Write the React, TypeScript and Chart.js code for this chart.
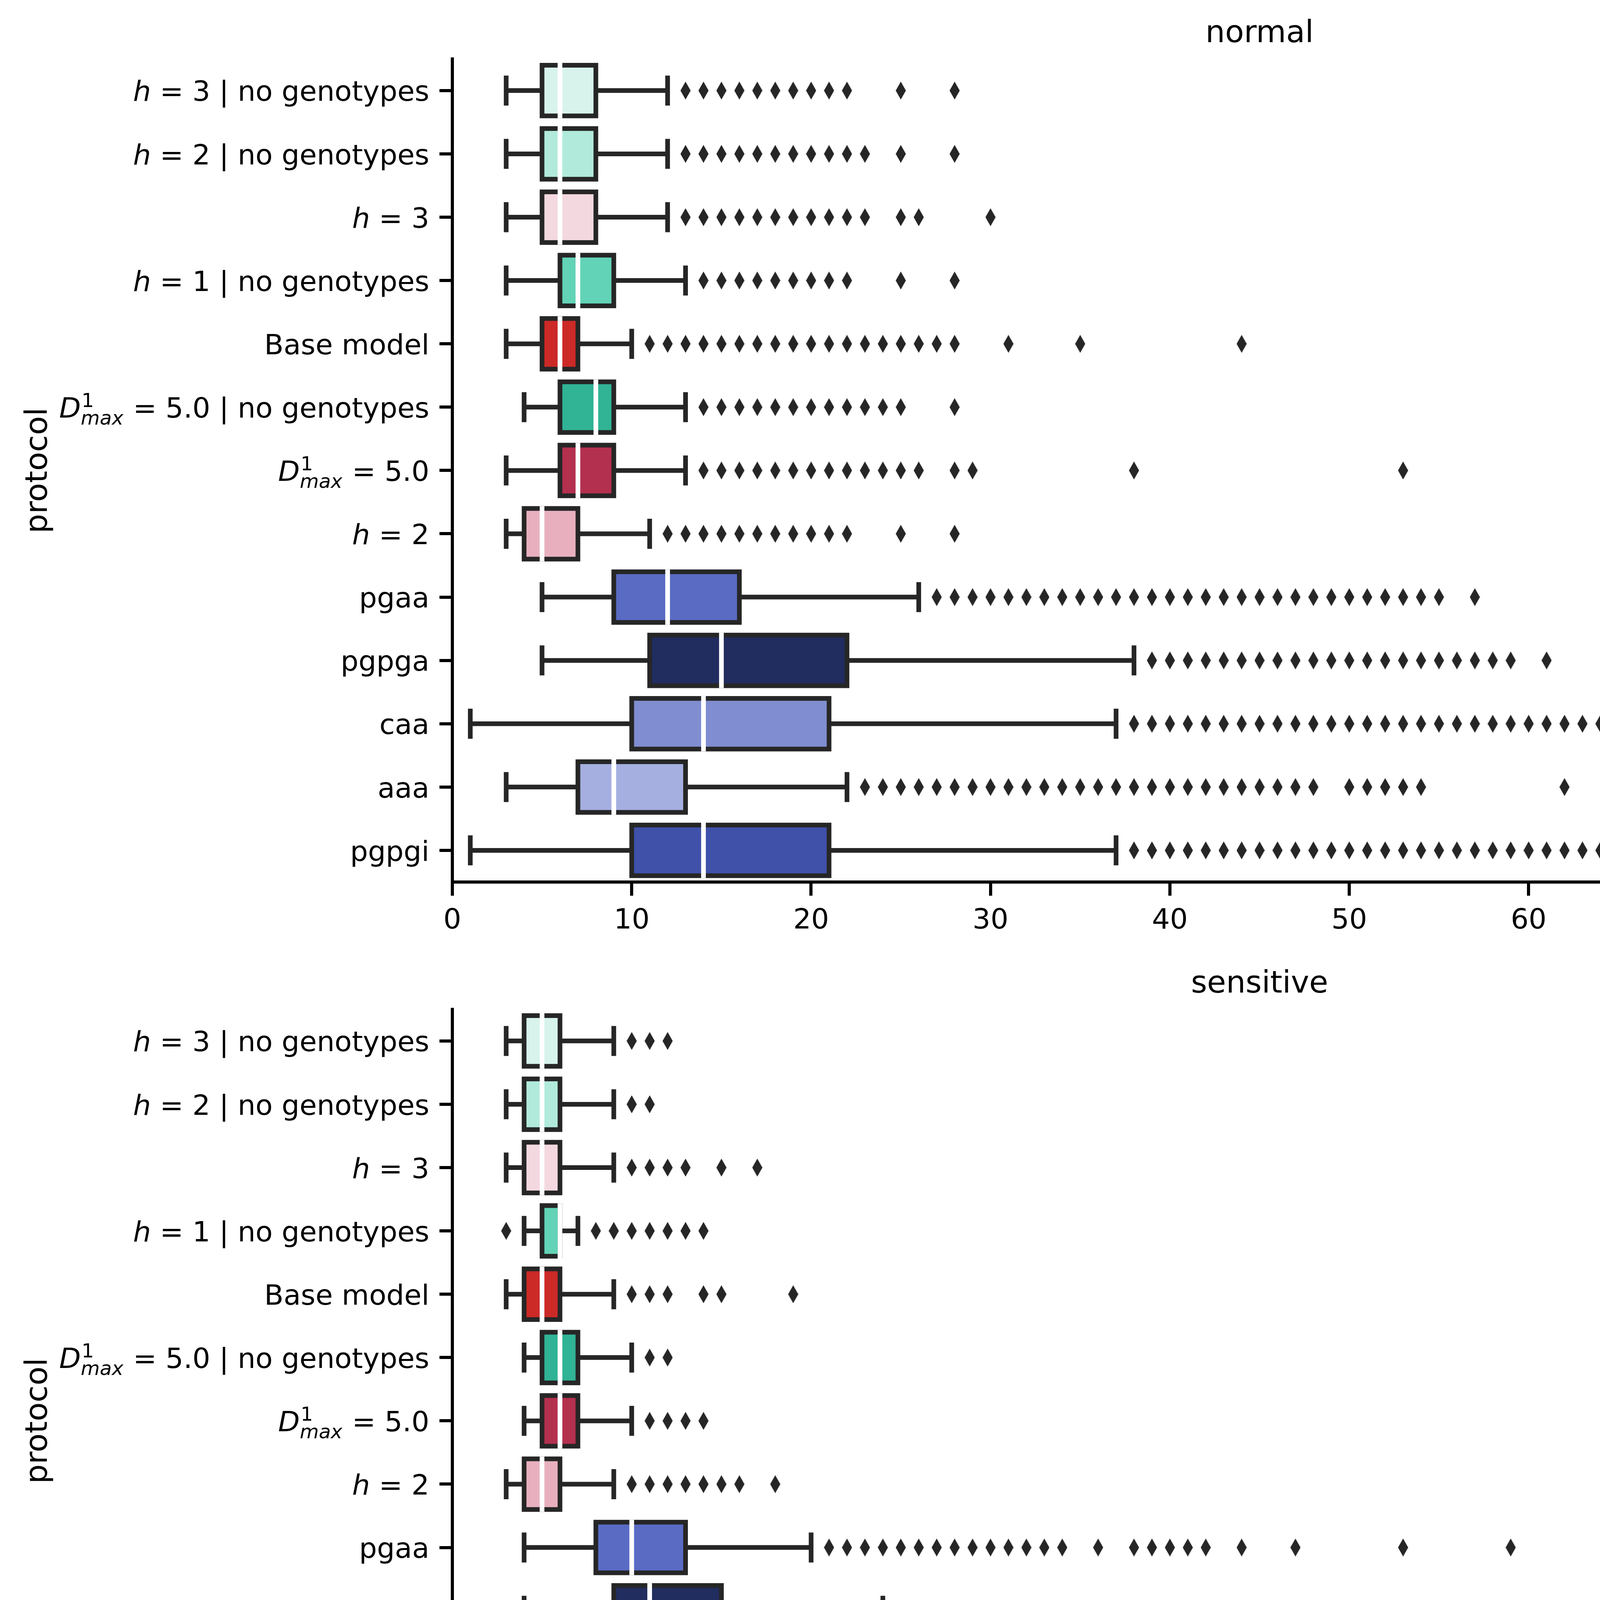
import React, { useEffect, useRef } from 'react';
import { Chart, registerables } from 'chart.js';

Chart.register(...registerables);

// ---------------- data ----------------
const categories = [
  'h = 3 | no genotypes',
  'h = 2 | no genotypes',
  'h = 3',
  'h = 1 | no genotypes',
  'Base model',
  'D^1_max = 5.0 | no genotypes',
  'D^1_max = 5.0',
  'h = 2',
  'pgaa',
  'pgpga',
  'caa',
  'aaa',
  'pgpgi',
];

const panelTitles = ['normal', 'sensitive', 'highly sensitive'];
const xMin = 0;
const xMax = 90;
const xStep = 10;

const boxColors = [
  '#d7f3ec', '#b1eadb', '#f4d8e0', '#62d3b6', '#cb2a27', '#31b395', '#b3304f',
  '#e8b0be', '#5a6bc4', '#212c5f', '#808dd0', '#a5afe0', '#3f51a9',
];

// normal
const normalLow = [3, 3, 3, 3, 3, 4, 3, 3, 5, 5, 1, 3, 1];
const normalQ1 = [5, 5, 5, 6, 5, 6, 6, 4, 9, 11, 10, 7, 10];
const normalMedian = [6, 6, 6, 7, 6, 8, 7, 5, 12, 15, 14, 9, 14];
const normalQ3 = [8, 8, 8, 9, 7, 9, 9, 7, 16, 22, 21, 13, 21];
const normalHigh = [12, 12, 12, 13, 10, 13, 13, 11, 26, 38, 37, 22, 37];
const normalFliers = [
  [13, 14, 15, 16, 17, 18, 19, 20, 21, 22, 25, 28],
  [13, 14, 15, 16, 17, 18, 19, 20, 21, 22, 23, 25, 28],
  [13, 14, 15, 16, 17, 18, 19, 20, 21, 22, 23, 25, 26, 30],
  [14, 15, 16, 17, 18, 19, 20, 21, 22, 25, 28],
  [11, 12, 13, 14, 15, 16, 17, 18, 19, 20, 21, 22, 23, 24, 25, 26, 27, 28, 31, 35, 44],
  [14, 15, 16, 17, 18, 19, 20, 21, 22, 23, 24, 25, 28],
  [14, 15, 16, 17, 18, 19, 20, 21, 22, 23, 24, 25, 26, 28, 29, 38, 53],
  [12, 13, 14, 15, 16, 17, 18, 19, 20, 21, 22, 25, 28],
  [27, 28, 29, 30, 31, 32, 33, 34, 35, 36, 37, 38, 39, 40, 41, 42, 43, 44, 45, 46, 47, 48, 49, 50, 51, 52, 53, 54, 55, 57],
  [39, 40, 41, 42, 43, 44, 45, 46, 47, 48, 49, 50, 51, 52, 53, 54, 55, 56, 57, 58, 59, 61, 65, 66, 72, 78],
  [38, 39, 40, 41, 42, 43, 44, 45, 46, 47, 48, 49, 50, 51, 52, 53, 54, 55, 56, 57, 58, 59, 60, 61, 62, 63, 64, 65, 66, 67, 68, 70, 71, 72, 73, 74, 77, 78, 81],
  [23, 24, 25, 26, 27, 28, 29, 30, 31, 32, 33, 34, 35, 36, 37, 38, 39, 40, 41, 42, 43, 44, 45, 46, 47, 48, 50, 51, 52, 53, 54, 62, 65, 71, 76],
  [38, 39, 40, 41, 42, 43, 44, 45, 46, 47, 48, 49, 50, 51, 52, 53, 54, 55, 56, 57, 58, 59, 60, 61, 62, 63, 64, 65, 66, 67, 68, 69, 70, 71, 72, 73, 74, 75, 76, 77, 78, 79, 80, 81, 82, 83, 84, 85, 86, 87, 88, 89, 90],
];

// sensitive
const sensitiveLow = [3, 3, 3, 4, 3, 4, 4, 3, 4, 4, 4, 3, 1];
const sensitiveQ1 = [4, 4, 4, 5, 4, 5, 5, 4, 8, 9, 7, 5, 8];
const sensitiveMedian = [5, 5, 5, 6, 5, 6, 6, 5, 10, 11, 8, 6, 11];
const sensitiveQ3 = [6, 6, 6, 6, 6, 7, 7, 6, 13, 15, 10, 8, 14];
const sensitiveHigh = [9, 9, 9, 7, 9, 10, 10, 9, 20, 24, 14, 12, 23];
const sensitiveFliers = [
  [10, 11, 12],
  [10, 11],
  [10, 11, 12, 13, 15, 17],
  [3, 8, 9, 10, 11, 12, 13, 14],
  [10, 11, 12, 14, 15, 19],
  [11, 12],
  [11, 12, 13, 14],
  [10, 11, 12, 13, 14, 15, 16, 18],
  [21, 22, 23, 24, 25, 26, 27, 28, 29, 30, 31, 32, 33, 34, 36, 38, 39, 40, 41, 42, 44, 47, 53, 59],
  [25, 26, 27, 28, 29, 30, 31, 32, 33, 34, 35, 36, 37, 38, 39, 40, 41, 42, 43, 44, 48, 53],
  [15, 16, 17, 18, 19, 20, 21, 22, 23, 24, 25, 27, 28, 29, 31, 32, 33, 40, 50],
  [13, 14, 15, 16, 17, 18, 19, 20, 23, 29, 30, 48, 67],
  [24, 25, 26, 27, 28, 29, 30, 31, 32, 33, 34, 35, 36, 37, 38, 39, 40, 41, 42, 43, 44, 45, 47, 48, 49, 50, 51, 52, 53, 54, 55, 56, 58, 59, 60, 61, 62, 63, 64, 65, 66, 67, 69, 70, 71, 72, 75, 81, 82, 84, 85, 87, 88, 89],
];

// highly sensitive
const highlyLow = [2, 2, 3, 3, 2, 4, 3, 3, 4, 5, 3, 3, 5];
const highlyQ1 = [3, 3, 4, 4, 3, 5, 5, 3, 8, 9, 5, 4, 8];
const highlyMedian = [4, 4, 5, 4, 4, 5, 6, 5, 10, 10, 6, 5, 9];
const highlyQ3 = [5, 5, 6, 5, 5, 6, 7, 8, 14, 12, 7, 6, 11];
const highlyHigh = [8, 6, 9, 6, 8, 7, 10, 15, 23, 16, 10, 9, 15];
const highlyFliers = [
  [10],
  [10, 14],
  [],
  [7],
  [9, 10, 15],
  [3, 8],
  [11, 14],
  [16, 17, 18, 19, 20, 21, 22],
  [24, 25, 28, 30, 31, 42, 43, 59, 67],
  [17, 18, 19, 21, 22, 23],
  [11, 12, 13, 14, 15],
  [11],
  [16, 17, 18, 20, 22, 23],
];

// ---------------- styling ----------------
const CANVAS_W = 5381;
const PANEL_HEIGHTS = [2433, 2433, 2542];
const PLOT_LEFT = 1158;
const PLOT_BOTTOM = 2258;
const RIGHT_PAD = 90;
const LINE = '#262626';
const LW = 12;
const AXIS_W = 8;
const FAMILY = '"DejaVu Sans", sans-serif';
const TICK_FS = 72;
const LABEL_FS = 79;
const SCRIPT_FS = 50;
const Y_TICK_LEN = 33;
const Y_TICK_PAD = 26;

Chart.defaults.font.family = FAMILY;
Chart.defaults.color = '#000';

function makeDiamond() {
  const c = document.createElement('canvas');
  c.width = 26;
  c.height = 46;
  const g = c.getContext('2d') as CanvasRenderingContext2D;
  g.fillStyle = LINE;
  g.beginPath();
  g.moveTo(13, 0);
  g.lineTo(26, 23);
  g.lineTo(13, 46);
  g.lineTo(0, 23);
  g.closePath();
  g.fill();
  return c;
}

type Atom =
  | { kind: 'text'; text: string; italic?: boolean }
  | { kind: 'scripts'; sup: string; sub: string };

function parseLabel(label: string): Atom[] {
  if (label.startsWith('h = ')) {
    return [
      { kind: 'text', text: 'h', italic: true },
      { kind: 'text', text: label.slice(1) },
    ];
  }
  if (label.startsWith('D^1_max')) {
    return [
      { kind: 'text', text: 'D', italic: true },
      { kind: 'scripts', sup: '1', sub: 'max' },
      { kind: 'text', text: label.slice(7) },
    ];
  }
  return [{ kind: 'text', text: label }];
}

function fontStr(size: number, italic?: boolean) {
  return `${italic ? 'italic ' : ''}${size}px ${FAMILY}`;
}

function atomWidth(ctx: CanvasRenderingContext2D, a: Atom) {
  if (a.kind === 'text') {
    ctx.font = fontStr(TICK_FS, a.italic);
    return ctx.measureText(a.text).width;
  }
  ctx.font = fontStr(SCRIPT_FS, false);
  const w1 = ctx.measureText(a.sup).width;
  ctx.font = fontStr(SCRIPT_FS, true);
  const w2 = ctx.measureText(a.sub).width;
  return Math.max(w1, w2) + 2;
}

function drawRichLabel(ctx: CanvasRenderingContext2D, label: string, rightX: number, centerY: number) {
  const atoms = parseLabel(label);
  const baseY = centerY + 0.37 * TICK_FS;
  const widths = atoms.map((a) => atomWidth(ctx, a));
  let x = rightX - widths.reduce((s, w) => s + w, 0);
  ctx.textAlign = 'left';
  ctx.textBaseline = 'alphabetic';
  ctx.fillStyle = '#000';
  atoms.forEach((a, k) => {
    if (a.kind === 'text') {
      ctx.font = fontStr(TICK_FS, a.italic);
      ctx.fillText(a.text, x, baseY);
    } else {
      ctx.font = fontStr(SCRIPT_FS, false);
      ctx.fillText(a.sup, x + 2, baseY - 0.38 * TICK_FS);
      ctx.font = fontStr(SCRIPT_FS, true);
      ctx.fillText(a.sub, x, baseY + 0.25 * TICK_FS);
    }
    x += widths[k];
  });
}

type PanelData = {
  title: string;
  low: number[];
  q1: number[];
  median: number[];
  q3: number[];
  high: number[];
  fliers: number[][];
  height: number;
  showXTitle: boolean;
};

const panels: PanelData[] = [
  { title: panelTitles[0], low: normalLow, q1: normalQ1, median: normalMedian, q3: normalQ3, high: normalHigh, fliers: normalFliers, height: PANEL_HEIGHTS[0], showXTitle: false },
  { title: panelTitles[1], low: sensitiveLow, q1: sensitiveQ1, median: sensitiveMedian, q3: sensitiveQ3, high: sensitiveHigh, fliers: sensitiveFliers, height: PANEL_HEIGHTS[1], showXTitle: false },
  { title: panelTitles[2], low: highlyLow, q1: highlyQ1, median: highlyMedian, q3: highlyQ3, high: highlyHigh, fliers: highlyFliers, height: PANEL_HEIGHTS[2], showXTitle: true },
];

function makeBoxPlugin(p: PanelData) {
  return {
    id: 'boxDecor',
    beforeDatasetsDraw(chart: any) {
      const ctx = chart.ctx as CanvasRenderingContext2D;
      const xs = chart.scales.x;
      const meta = chart.getDatasetMeta(0);
      ctx.save();
      ctx.strokeStyle = LINE;
      ctx.lineWidth = LW;
      meta.data.forEach((el: any, i: number) => {
        const { y, height } = el.getProps(['y', 'height'], true);
        const capHalf = height * 0.25;
        const pLo = xs.getPixelForValue(p.low[i]);
        const pQ1 = xs.getPixelForValue(p.q1[i]);
        const pQ3 = xs.getPixelForValue(p.q3[i]);
        const pHi = xs.getPixelForValue(p.high[i]);
        ctx.lineCap = 'butt';
        ctx.beginPath();
        ctx.moveTo(pLo, y);
        ctx.lineTo(pQ1, y);
        ctx.moveTo(pQ3, y);
        ctx.lineTo(pHi, y);
        ctx.stroke();
        ctx.lineCap = 'square';
        ctx.beginPath();
        ctx.moveTo(pLo, y - capHalf);
        ctx.lineTo(pLo, y + capHalf);
        ctx.moveTo(pHi, y - capHalf);
        ctx.lineTo(pHi, y + capHalf);
        ctx.stroke();
      });
      ctx.restore();
    },
    afterDatasetsDraw(chart: any) {
      const ctx = chart.ctx as CanvasRenderingContext2D;
      const xs = chart.scales.x;
      const meta = chart.getDatasetMeta(0);
      ctx.save();
      meta.data.forEach((el: any, i: number) => {
        const { x, y, base, height } = el.getProps(['x', 'y', 'base', 'height'], true);
        const left = Math.min(x, base);
        const right = Math.max(x, base);
        const half = height / 2;
        ctx.lineJoin = 'miter';
        ctx.strokeStyle = LINE;
        ctx.lineWidth = LW;
        ctx.strokeRect(left, y - half, right - left, height);
        const pMed = xs.getPixelForValue(p.median[i]);
        ctx.strokeStyle = '#ffffff';
        ctx.lineCap = 'square';
        ctx.beginPath();
        ctx.moveTo(pMed, y - half);
        ctx.lineTo(pMed, y + half);
        ctx.stroke();
      });
      ctx.restore();
    },
    afterDraw(chart: any) {
      const ctx = chart.ctx as CanvasRenderingContext2D;
      const ys = chart.scales.y;
      ctx.save();
      categories.forEach((label, i) => {
        const cy = ys.getPixelForValue(i);
        drawRichLabel(ctx, label, ys.right - Y_TICK_LEN - Y_TICK_PAD, cy);
      });
      ctx.restore();
    },
  };
}

function Panel({ p }: { p: PanelData }) {
  const ref = useRef<HTMLCanvasElement>(null);
  useEffect(() => {
    const canvas = ref.current as HTMLCanvasElement;
    const diamond = makeDiamond();
    const flierPoints: { x: number; y: string }[] = [];
    p.fliers.forEach((arr, i) => arr.forEach((v) => flierPoints.push({ x: v, y: categories[i] })));
    const chart = new Chart(canvas, {
      type: 'bar',
      data: {
        labels: categories,
        datasets: [
          {
            type: 'bar',
            data: p.q1.map((v, i) => [v, p.q3[i]]),
            backgroundColor: boxColors,
            borderWidth: 0,
            barPercentage: 0.8,
            categoryPercentage: 1,
          } as any,
          {
            type: 'scatter',
            data: flierPoints,
            pointStyle: diamond,
            pointRadius: 13,
            clip: 0,
          } as any,
        ],
      },
      options: {
        indexAxis: 'y',
        responsive: false,
        animation: false,
        devicePixelRatio: 1,
        events: [],
        layout: { padding: { left: 0, right: RIGHT_PAD, top: 0, bottom: 0 } },
        plugins: {
          legend: { display: false },
          tooltip: { enabled: false },
          title: {
            display: true,
            text: p.title,
            fullSize: false,
            color: '#000',
            font: { size: LABEL_FS, weight: 'normal', family: FAMILY },
            padding: { top: 40, bottom: 16 },
          },
        },
        scales: {
          x: {
            type: 'linear',
            min: xMin,
            max: xMax,
            afterFit: (s: any) => {
              s.height = p.height - PLOT_BOTTOM;
            },
            ticks: { stepSize: xStep, color: '#000', font: { size: TICK_FS, family: FAMILY }, padding: 22, maxRotation: 0 },
            grid: { drawOnChartArea: false, drawTicks: true, tickLength: 35, color: '#000', lineWidth: AXIS_W },
            border: { display: true, color: '#000', width: AXIS_W },
            title: {
              display: p.showXTitle,
              text: 'value',
              color: '#000',
              font: { size: LABEL_FS, family: FAMILY },
              padding: { top: 0, bottom: 44 },
            },
          },
          y: {
            type: 'category',
            offset: true,
            afterFit: (s: any) => {
              s.width = PLOT_LEFT;
            },
            ticks: { display: false },
            grid: { drawOnChartArea: false, drawTicks: true, tickLength: Y_TICK_LEN, offset: false, color: '#000', lineWidth: AXIS_W },
            border: { display: true, color: '#000', width: AXIS_W },
            title: {
              display: true,
              text: 'protocol',
              color: '#000',
              font: { size: LABEL_FS, family: FAMILY },
              padding: { top: 52, bottom: 0 },
            },
          },
        },
      } as any,
      plugins: [makeBoxPlugin(p)],
    });
    return () => chart.destroy();
  }, [p]);
  return (
    <canvas
      ref={ref}
      width={CANVAS_W}
      height={p.height}
      style={{ display: 'block', width: CANVAS_W, height: p.height }}
    />
  );
}

export default function App() {
  useEffect(() => {
    document.body.style.margin = '0';
    document.body.style.overflow = 'hidden';
    document.body.style.background = '#fff';
  }, []);
  return (
    <div style={{ width: CANVAS_W, background: '#fff' }}>
      {panels.map((p) => (
        <Panel key={p.title} p={p} />
      ))}
    </div>
  );
}
